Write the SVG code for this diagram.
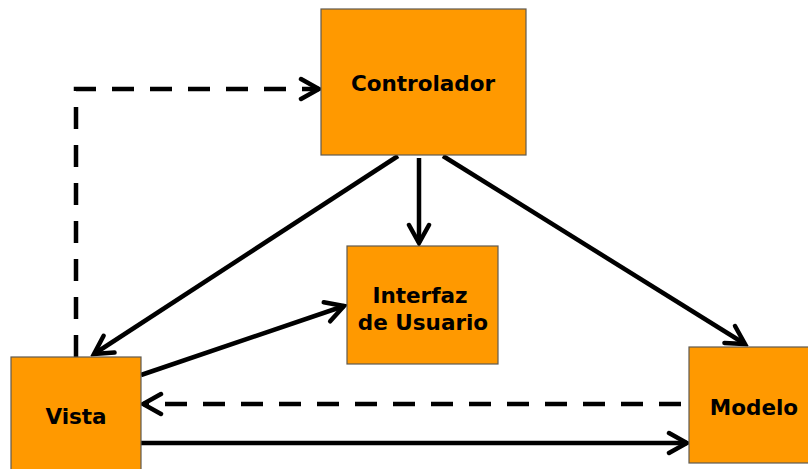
<svg xmlns="http://www.w3.org/2000/svg" width="808" height="469" viewBox="0 0 808 469">
<style>
.box{fill:#FF9900;stroke:#5f5a50;stroke-width:1.2}
.lbl{font-family:"DejaVu Sans",Verdana,sans-serif;font-weight:bold;font-size:21.5px;fill:#000;text-anchor:middle}
.ln{fill:none;stroke:#000;stroke-width:4.5}
.dash{stroke-dasharray:22 16}
</style>
<defs>
<marker id="ah" viewBox="0 0 26 26" refX="22" refY="13" markerWidth="26" markerHeight="26" markerUnits="userSpaceOnUse" orient="auto">
<path d="M4,3 L22,13 L4,23" fill="none" stroke="#000" stroke-width="4.5" stroke-linecap="round" stroke-linejoin="miter"/>
</marker>
</defs>
<g id="connectors">
<path class="ln dash" d="M76,357 V89 H319" marker-end="url(#ah)"/>
<path class="ln dash" d="M681,404 H143" marker-end="url(#ah)"/>
<path class="ln" d="M141,443 H687" marker-end="url(#ah)"/>
<path class="ln" d="M398,156 L94,354" marker-end="url(#ah)"/>
<path class="ln" d="M419,158 V243" marker-end="url(#ah)"/>
<path class="ln" d="M443,156 L745,344" marker-end="url(#ah)"/>
<path class="ln" d="M141,375 L344,306" marker-end="url(#ah)"/>
</g>
<g id="controlador">
<rect class="box" x="321" y="9" width="205" height="146"/>
<text class="lbl" x="423" y="91">Controlador</text>
</g>
<g id="interfaz">
<rect class="box" x="347" y="246" width="151" height="118"/>
<text class="lbl" x="420" y="303">Interfaz</text>
<text class="lbl" x="423" y="330">de Usuario</text>
</g>
<g id="vista">
<rect class="box" x="11" y="357" width="130" height="120"/>
<text class="lbl" x="76" y="424">Vista</text>
</g>
<g id="modelo">
<rect class="box" x="689" y="347" width="125" height="116"/>
<text class="lbl" x="754" y="415">Modelo</text>
</g>
</svg>
